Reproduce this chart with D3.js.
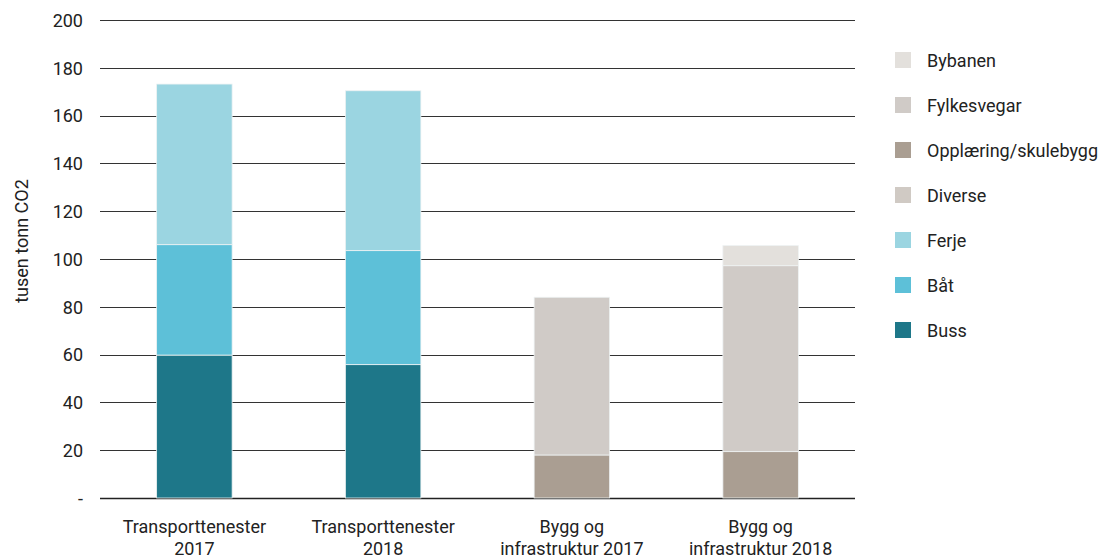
<!DOCTYPE html>
<html><head><meta charset="utf-8">
<script src="https://cdn.jsdelivr.net/npm/d3@7"></script>
<style>body{margin:0;background:#fff;font-family:Roboto,"Noto Sans",sans-serif;}</style>
</head><body><svg id="c" width="1107" height="559"></svg>
<script>
const categories = [["Transporttenester","2017"],["Transporttenester","2018"],["Bygg og","infrastruktur 2017"],["Bygg og","infrastruktur 2018"]];
const catKeys = ["T2017","T2018","B2017","B2018"];
const seriesNames = ["Buss","Båt","Ferje","Diverse","Opplæring/skulebygg","Fylkesvegar","Bybanen"];
const buss = [59.8, 55.8, 0, 0];
const baat = [46.2, 47.7, 0, 0];
const ferje = [67.2, 66.9, 0, 0];
const diverse = [0, 0, 0, 0];
const opplaering = [0, 0, 18.0, 19.4];
const fylkesvegar = [0, 0, 66.0, 77.8];
const bybanen = [0, 0, 0, 8.4];
const yTicks = [0,20,40,60,80,100,120,140,160,180,200];
const colors = ["#1e7789","#5dc0d8","#9bd5e1","#d0cac4","#aa9e92","#d0cbc7","#e3e0dc"];

const seriesVals = [buss, baat, ferje, diverse, opplaering, fylkesvegar, bybanen];
const rows = catKeys.map((k,i)=>{const r={key:k}; seriesNames.forEach((s,j)=>r[s]=seriesVals[j][i]); return r;});
const stack = d3.stack().keys(seriesNames)(rows);

const svg = d3.select("#c");
const x = d3.scaleBand().domain(catKeys).range([100,855]).paddingInner(0.6).paddingOuter(0.3);
const y = d3.scaleLinear().domain([0,200]).range([498,20]);
const FS = 18;

const yAxis = d3.axisLeft(y).tickValues(yTicks).tickSize(0).tickPadding(17).tickFormat(d=>d===0?"-":d);
const ga = svg.append("g").attr("transform","translate(100,0)").call(yAxis);
ga.select(".domain").remove();
ga.selectAll("text").attr("font-family","Roboto").attr("font-size",FS).attr("fill","#222").attr("dy","0.35em");
svg.append("g").selectAll("line").data(yTicks).join("line")
  .attr("x1",100).attr("x2",855).attr("y1",d=>Math.round(y(d))+0.5).attr("y2",d=>Math.round(y(d))+0.5)
  .attr("stroke",d=>d===0?"#222":"#333").attr("stroke-width",d=>d===0?1.5:1);

svg.append("g").selectAll("g").data(stack).join("g").attr("fill",(d,i)=>colors[i])
  .selectAll("rect").data(d=>d.filter(v=>v[1]-v[0]>0)).join("rect")
  .attr("x",d=>x(d.data.key)).attr("width",x.bandwidth())
  .attr("y",d=>y(d[1])).attr("height",d=>y(d[0])-y(d[1]))
  .attr("stroke","#eef2f3").attr("stroke-width",0.8);

const xl = svg.append("g");
catKeys.forEach((k,i)=>{
  const cx = x(k)+x.bandwidth()/2;
  const t = xl.append("text").attr("text-anchor","middle")
    .attr("font-family","Roboto").attr("font-size",FS).attr("fill","#222");
  t.append("tspan").attr("x",cx).attr("y",533).text(categories[i][0]);
  t.append("tspan").attr("x",cx).attr("y",555).text(categories[i][1]);
});

svg.append("text").attr("transform","translate(28,241) rotate(-90)").attr("text-anchor","middle")
  .attr("font-family","Roboto").attr("font-size",FS).attr("fill","#222").text("tusen tonn CO2");

const legendOrder = seriesNames.map((s,i)=>({s,c:colors[i]})).reverse();
const lg = svg.append("g").selectAll("g").data(legendOrder).join("g")
  .attr("transform",(d,i)=>`translate(895,${60+i*45})`);
lg.append("rect").attr("x",0).attr("y",-8).attr("width",16).attr("height",16).attr("fill",d=>d.c);
lg.append("text").attr("x",32).attr("y",6.5).attr("font-family","Roboto").attr("font-size",FS).attr("fill","#222").text(d=>d.s);
</script></body></html>
